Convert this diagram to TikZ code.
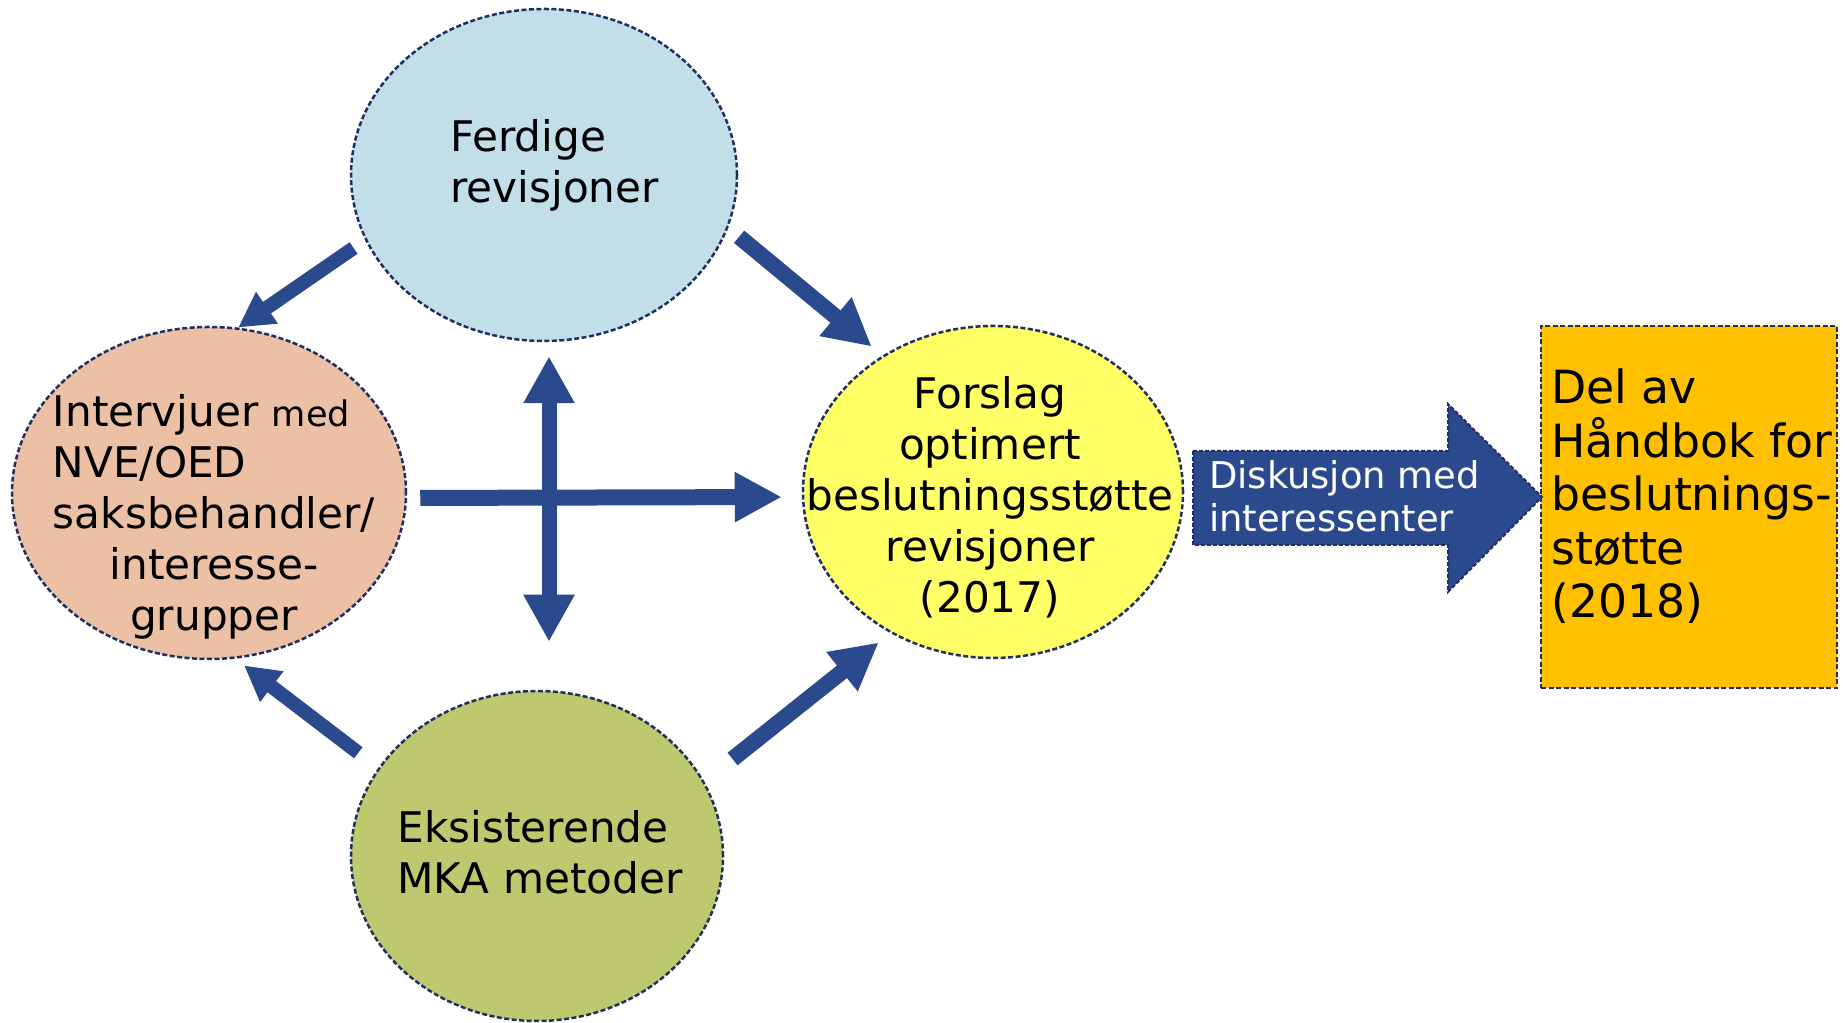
\documentclass[tikz,border=0pt]{standalone}
\usepackage{fontspec}
\setmainfont{DejaVu Sans}
\usepackage{calc}
\usepackage{tikz}
\usetikzlibrary{arrows.meta,positioning,shapes.geometric}
\definecolor{arrowblue}{HTML}{2B4A8E}
\definecolor{edgenavy}{HTML}{1F3060}
\definecolor{ferdblue}{HTML}{C1DEE9}
\definecolor{intvpeach}{HTML}{EBC0A5}
\definecolor{forsyellow}{HTML}{FFFF66}
\definecolor{eksigreen}{HTML}{BEC96F}
\definecolor{delorange}{HTML}{FFC000}
\tikzset{
  stageellipse/.style={ellipse,draw=edgenavy,line width=0.025cm,
    dash pattern=on 0.05cm off 0.025cm,inner sep=0pt},
  resultbox/.style={rectangle,draw=edgenavy,fill=delorange,line width=0.025cm,
    dash pattern=on 0.05cm off 0.025cm,inner sep=0pt},
  stagetext/.style={font=\fontsize{12}{14.5}\selectfont,inner sep=0pt},
  resulttext/.style={font=\fontsize{13}{15.2}\selectfont,inner sep=0pt,align=left},
  diskshape/.style={fill=arrowblue,draw=edgenavy,line width=0.02cm,
    dash pattern=on 0.04cm off 0.02cm},
  disktext/.style={font=\fontsize{10.5}{12.3}\selectfont,text=white,inner sep=0pt,align=left},
  flowarrow/.style={draw=arrowblue,line width=0.14cm},
  smallhead/.style={-{Triangle[length=0.35cm,width=0.36cm]}},
  bighead/.style={-{Triangle[length=0.47cm,width=0.47cm]},line width=0.16cm},
  bothhead/.style={{Triangle[length=0.47cm,width=0.48cm]}-{Triangle[length=0.47cm,width=0.48cm]},
    line width=0.15cm}
}
\begin{document}
\begin{tikzpicture}
  \useasboundingbox (0,0) rectangle (18.45,10.23);
  % the four stages and the result
  \node[stageellipse,fill=ferdblue,minimum width=3.86cm,minimum height=3.32cm] (ferd) at (5.44,8.48) {};
  \node[stageellipse,fill=intvpeach,minimum width=3.94cm,minimum height=3.32cm] (intv) at (2.09,5.30) {};
  \node[stageellipse,fill=forsyellow,minimum width=3.80cm,minimum height=3.32cm] (fors) at (9.93,5.31) {};
  \node[stageellipse,fill=eksigreen,minimum width=3.72cm,minimum height=3.30cm] (eksi) at (5.37,1.67) {};
  \node[resultbox,minimum width=2.96cm,minimum height=3.62cm] (del) at (16.89,5.16) {};
  % texts
  \node[stagetext,align=left] (ferdtext) at ([shift={(0.105,0.095)}]ferd.center) {Ferdige\\revisjoner};
  \node[stagetext,align=center] (intvtext) at ([shift={(0.05,-0.235)}]intv.center)
    {\makebox[\widthof{saksbehandler/}][l]{Intervjuer {\fontsize{10}{14.5}\selectfont med}}\\
     \makebox[\widthof{saksbehandler/}][l]{NVE/OED}\\
     saksbehandler/\\interesse-\\grupper};
  \node[stagetext,align=center] (forstext) at ([shift={(-0.03,-0.05)}]fors.center)
    {Forslag\\optimert\\beslutningsstøtte\\revisjoner\\(2017)};
  \node[stagetext,align=left] (eksitext) at ([shift={(0.03,0.04)}]eksi.center) {Eksisterende\\MKA metoder};
  \node[resulttext] (deltext) at ([shift={(0.03,0.105)}]del.center)
    {Del av\\Håndbok for\\beslutnings-\\støtte\\(2018)};
  % block arrow to the result
  \filldraw[diskshape] (11.93,5.72) -- (14.48,5.72) -- (14.48,6.19) -- (15.42,5.26)
    -- (14.48,4.31) -- (14.48,4.78) -- (11.93,4.78) -- cycle;
  \node[disktext] (disk) at (13.445,5.27) {Diskusjon med\\interessenter};
  % flows
  \draw[flowarrow,smallhead,shorten <=0.14cm] (ferd.200) -- (intv.80);
  \draw[flowarrow,bighead,shorten <=0.14cm,shorten >=0.14cm] (ferd.344) -- (fors.129);
  \draw[flowarrow,smallhead,shorten <=0.25cm,shorten >=0.11cm] (eksi.151) -- (intv.279);
  \draw[flowarrow,bighead,shorten <=0.36cm,shorten >=0.15cm] (eksi.24) -- (fors.234);
  \draw[flowarrow,bighead,shorten <=0.13cm,shorten >=0.2cm]
    ([yshift=-0.05cm]intv.east) -- ([yshift=-0.05cm]fors.west);
  \draw[flowarrow,bothhead,shorten <=0.14cm,shorten >=0.48cm]
    ([xshift=0.05cm]ferd.south) -- ([xshift=0.05cm]ferd.south |- eksi.north);
\end{tikzpicture}
\end{document}
